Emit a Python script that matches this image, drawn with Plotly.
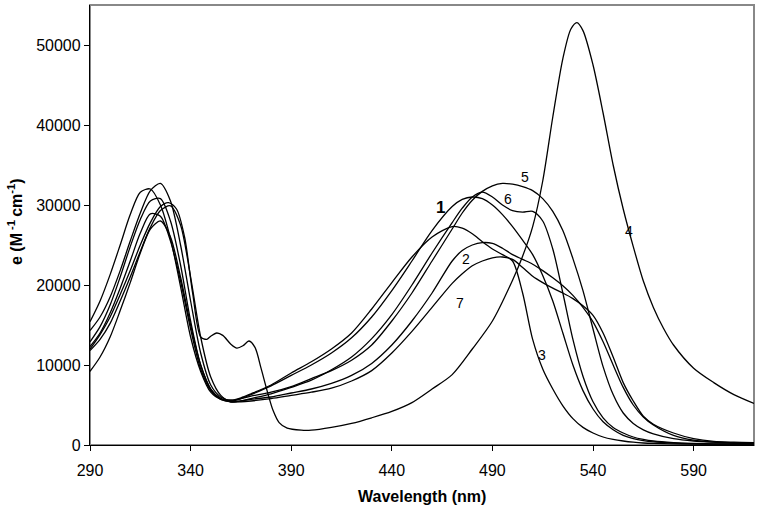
import plotly.graph_objects as go

# shared wavelength grid (nm) for curves 1,2,3,5,6,7
wl = [290, 295, 300, 305, 310, 315, 320, 325, 330, 335, 340, 345, 350, 355, 360, 365, 370,
      380, 390, 400, 410, 420, 430, 440, 450, 460, 470, 475, 480, 485, 490, 495, 500, 505,
      510, 515, 520, 525, 530, 535, 540, 545, 550, 555, 560, 565, 570, 580, 590, 600, 610, 620]

eps1 = [12900, 14800, 17500, 21000, 24800, 28200, 30500, 30800, 28000, 22500, 15500, 10000, 7000, 5800, 5500, 5800, 6300,
        7400, 8700, 10000, 11500, 13400, 16000, 19300, 23000, 26800, 29800, 30700, 31000, 30800, 30000, 28800, 27300, 25600,
        23800, 21200, 18000, 14000, 10000, 6800, 4500, 2900, 1900, 1200, 800, 550, 400, 250, 150, 100, 100, 100]

eps2 = [12300, 14000, 16500, 19600, 23000, 26500, 28900, 28600, 25500, 20500, 14500, 9500, 6800, 5700, 5400, 5500, 5700,
        6000, 6500, 7000, 7700, 8700, 10200, 12500, 15500, 19000, 23000, 24300, 25000, 25300, 25200, 24600, 23800, 23200,
        22600, 21800, 20900, 19900, 18700, 17200, 15400, 12900, 10000, 7200, 5000, 3500, 2500, 1200, 600, 350, 250, 200]

eps3 = [15400, 18000, 21300, 25000, 28800, 31600, 32000, 30000, 25800, 19800, 13500, 9200, 6600, 5700, 5600, 5900, 6400,
        7500, 9000, 10400, 12000, 14000, 17000, 20300, 23500, 26000, 27300, 27100, 26400, 25400, 24500, 23800, 23000, 19000,
        13200, 9500, 7000, 4900, 3300, 2200, 1500, 1000, 700, 500, 350, 250, 200, 150, 100, 100, 100, 100]

eps5 = [14300, 16000, 18500, 21800, 25500, 29000, 31800, 32700, 30500, 25000, 18000, 11500, 7500, 6000, 5600, 5800, 6100,
        6600, 7300, 8300, 9300, 10600, 12500, 15500, 19000, 23000, 27000, 29000, 30600, 31700, 32400, 32700, 32600, 32300,
        31800, 30800, 29200, 26800, 23300, 19300, 14500, 9800, 6300, 4000, 2700, 1900, 1400, 800, 500, 350, 250, 200]

eps6 = [11800, 13200, 15200, 18000, 21000, 24200, 27200, 29300, 29900, 27500, 21000, 13500, 8500, 6200, 5400, 5500, 5800,
        6400, 7200, 8100, 9400, 11000, 13300, 16300, 20000, 24000, 27800, 29600, 31000, 31600, 31000, 30000, 29300, 29100,
        29200, 28000, 24500, 19000, 13200, 8600, 5400, 3400, 2200, 1500, 1000, 700, 500, 300, 200, 150, 100, 100]

eps7 = [9200, 11000, 13500, 16800, 20300, 24000, 27000, 28000, 26000, 21000, 15000, 10000, 7000, 5800, 5400, 5400, 5500,
        5800, 6200, 6600, 7100, 8000, 9300, 11500, 14200, 17200, 20200, 21400, 22400, 23000, 23400, 23500, 23200, 22200,
        21100, 20300, 19600, 19000, 18300, 17400, 16200, 14000, 11000, 7800, 5500, 3600, 2600, 1500, 800, 450, 350, 300]

# curve 4 has its own, finer grid
wl4 = [290, 295, 300, 305, 310, 315, 320, 325, 329, 333, 337, 341, 345, 348, 350, 353, 356, 360, 363, 366, 369, 372,
       375, 378, 381, 384, 388, 395, 400, 410, 420, 430, 440, 450, 460, 470, 480, 490, 500, 505, 510, 515, 520, 525,
       529, 532, 535, 540, 545, 550, 555, 560, 565, 570, 575, 580, 590, 600, 610, 620]
eps4 = [12000, 13800, 16000, 18800, 21800, 25000, 27800, 29800, 30300, 29500, 26000, 19000, 13500, 13200, 13600, 14000,
        13700, 12600, 12100, 12400, 13000, 12200, 9600, 6800, 4300, 2800, 2100, 1850, 1850, 2200, 2700, 3400, 4200, 5300,
        7000, 8800, 12000, 15500, 20600, 23600, 27300, 33000, 41000, 48300, 52000, 52800, 51800, 47500, 41500, 35000,
        29500, 24800, 20500, 17200, 14600, 12500, 9600, 7800, 6300, 5200]

label_text = ["<b>1</b>", "2", "3", "4", "5", "6", "7"]
label_x = [464, 477, 514.7, 557.8, 506.4, 497.6, 473.7]
label_y = [29700, 23300, 11300, 26800, 33500, 30800, 17700]
label_size = [17, 14, 14, 14, 14, 14, 14]

series = [(wl, eps1), (wl, eps2), (wl, eps3), (wl4, eps4), (wl, eps5), (wl, eps6), (wl, eps7)]

FONT = "Liberation Sans, Arial"

fig = go.Figure()
for xs, ys in series:
    fig.add_trace(go.Scatter(x=xs, y=ys, mode="lines",
                             line=dict(color="black", width=1.3, shape="spline", smoothing=0.8),
                             showlegend=False, hoverinfo="skip"))

for t, x, y, s in zip(label_text, label_x, label_y, label_size):
    fig.add_annotation(x=x, y=y, text=t, showarrow=False,
                       font=dict(family=FONT, size=s, color="black"))

# axis titles
fig.add_annotation(xref="paper", yref="paper", x=0.5, y=-0.118, yanchor="middle",
                   text="<b>Wavelength (nm)</b>", showarrow=False,
                   font=dict(family=FONT, size=16, color="black"))
fig.add_annotation(xref="paper", yref="paper", x=-0.113, y=0.509, xanchor="center",
                   text="<b>e (M<sup> -1 </sup>cm<sup>-1</sup>)</b>", textangle=-90, showarrow=False,
                   font=dict(family=FONT, size=16, color="black"))

# gray plot border (top and right)
fig.add_shape(type="rect", xref="paper", yref="paper", x0=0, x1=1, y0=0, y1=1,
              line=dict(color="#888888", width=2), layer="below")

fig.update_xaxes(range=[290, 620], tick0=290, dtick=50, showgrid=False, zeroline=False,
                 showline=True, linecolor="black", linewidth=1.3,
                 ticks="outside", ticklen=5, tickcolor="black", tickwidth=1.3,
                 ticklabelstandoff=6,
                 tickfont=dict(family=FONT, size=16, color="black"))
fig.update_yaxes(range=[0, 55000], tick0=0, dtick=10000, showgrid=False, zeroline=False,
                 showline=True, linecolor="black", linewidth=1.3,
                 ticks="outside", ticklen=5, tickcolor="black", tickwidth=1.3,
                 tickformat="d",
                 tickfont=dict(family=FONT, size=16, color="black"))

fig.update_layout(width=762, height=509, margin=dict(l=90, r=8, t=5, b=64),
                  paper_bgcolor="white", plot_bgcolor="white")

fig.write_html("out.html", config={"displayModeBar": False},
               post_script="document.body.style.margin='0';document.body.style.overflow='hidden';")
